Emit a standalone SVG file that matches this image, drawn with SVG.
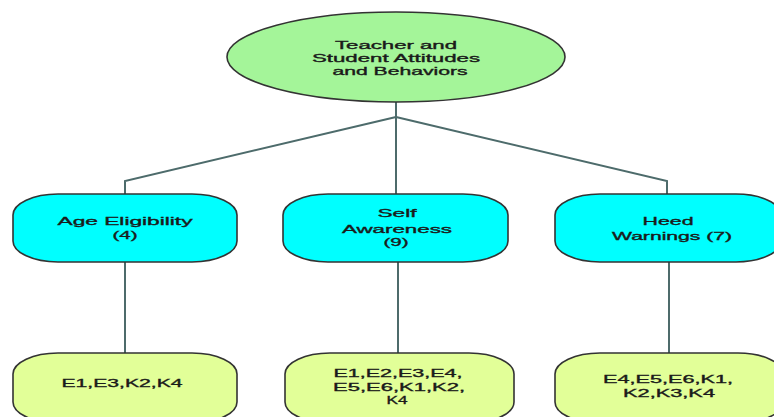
<svg xmlns="http://www.w3.org/2000/svg" width="774" height="417" viewBox="0 0 774 417">
<style>
text{font-family:"Liberation Sans",Arial,sans-serif;font-size:11px;fill:#1a1a1a;stroke:#1a1a1a;stroke-width:0.35;text-anchor:middle}
.conn{fill:none;stroke:#4d6b6b;stroke-width:2}
.root{fill:#a4f599;stroke:#333;stroke-width:1.6}
.mid{fill:#00ffff;stroke:#333;stroke-width:1.6}
.leaf{fill:#e2ff98;stroke:#333;stroke-width:1.6}
</style>
<rect width="774" height="417" fill="#fff"/>
<g id="connectors">
<polyline class="conn" points="396,102 396,117"/>
<polyline class="conn" points="396,117 125,181 125,194"/>
<polyline class="conn" points="396,117 396,194"/>
<polyline class="conn" points="396,117 667,181 667,194"/>
<line class="conn" x1="125" y1="262" x2="125" y2="353"/>
<line class="conn" x1="398" y1="262" x2="398" y2="353"/>
<line class="conn" x1="669" y1="262" x2="669" y2="353"/>
</g>
<g id="root">
<ellipse class="root" cx="396" cy="57" rx="169" ry="45"/>
<text x="396" y="49" textLength="122" lengthAdjust="spacingAndGlyphs">Teacher and</text>
<text x="396" y="62" textLength="168" lengthAdjust="spacingAndGlyphs">Student Attitudes</text>
<text x="400" y="75" textLength="135" lengthAdjust="spacingAndGlyphs">and Behaviors</text>
</g>
<g id="age">
<rect class="mid" x="13" y="194" width="224" height="68" rx="45" ry="21"/>
<text x="125" y="225" textLength="135" lengthAdjust="spacingAndGlyphs">Age Eligibility</text>
<text x="125" y="239" textLength="25" lengthAdjust="spacingAndGlyphs">(4)</text>
</g>
<g id="self">
<rect class="mid" x="283" y="194" width="225" height="68" rx="45" ry="21"/>
<text x="397" y="217" textLength="39" lengthAdjust="spacingAndGlyphs">Self</text>
<text x="397" y="233" textLength="110" lengthAdjust="spacingAndGlyphs">Awareness</text>
<text x="396" y="246" textLength="25" lengthAdjust="spacingAndGlyphs">(9)</text>
</g>
<g id="heed">
<rect class="mid" x="555" y="194" width="226" height="68" rx="45" ry="21"/>
<text x="668" y="225" textLength="51" lengthAdjust="spacingAndGlyphs">Heed</text>
<text x="672" y="240" textLength="120" lengthAdjust="spacingAndGlyphs">Warnings (7)</text>
</g>
<g id="leaf-age">
<rect class="leaf" x="13" y="353" width="224" height="70" rx="45" ry="21"/>
<text x="122" y="387" textLength="121" lengthAdjust="spacingAndGlyphs">E1,E3,K2,K4</text>
</g>
<g id="leaf-self">
<rect class="leaf" x="285" y="353" width="229" height="70" rx="45" ry="21"/>
<text x="398" y="377" textLength="129" lengthAdjust="spacingAndGlyphs">E1,E2,E3,E4,</text>
<text x="399" y="391" textLength="132" lengthAdjust="spacingAndGlyphs">E5,E6,K1,K2,</text>
<text x="397" y="404" textLength="21" lengthAdjust="spacingAndGlyphs">K4</text>
</g>
<g id="leaf-heed">
<rect class="leaf" x="555" y="353" width="228" height="70" rx="45" ry="21"/>
<text x="668" y="383" textLength="130" lengthAdjust="spacingAndGlyphs">E4,E5,E6,K1,</text>
<text x="669" y="397" textLength="92" lengthAdjust="spacingAndGlyphs">K2,K3,K4</text>
</g>
</svg>
